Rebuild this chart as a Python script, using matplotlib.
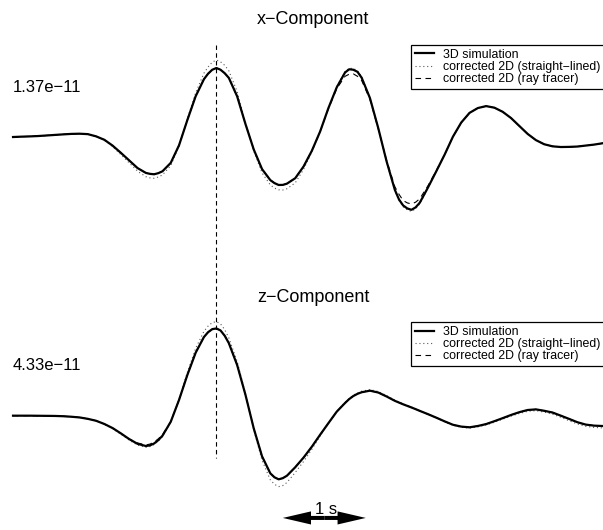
import numpy as np
import matplotlib
matplotlib.use("Agg")
import matplotlib.pyplot as plt
from matplotlib.lines import Line2D
import matplotlib.transforms as mtrans

plt.rcParams["font.family"] = ["Liberation Sans", "DejaVu Sans"]

# sample times (s), shared by all traces; denser around the extrema
t = [0.0, 0.1, 0.2, 0.3, 0.4, 0.5, 0.6, 0.7, 0.8, 0.9,
     1.0, 1.1, 1.2, 1.3, 1.4, 1.5, 1.6, 1.65, 1.7, 1.75, 1.8, 1.9,
     2.0, 2.1, 2.2, 2.3, 2.35, 2.4, 2.45, 2.5, 2.55, 2.6, 2.7, 2.8, 2.9,
     3.0, 3.1, 3.15, 3.2, 3.25, 3.3, 3.4, 3.5, 3.6, 3.7, 3.8, 3.9,
     4.0, 4.05, 4.1, 4.15, 4.2, 4.3, 4.4, 4.5, 4.6, 4.65, 4.7, 4.75, 4.8, 4.85, 4.9,
     5.0, 5.1, 5.2, 5.3, 5.4, 5.5, 5.6, 5.7, 5.8, 5.9,
     6.0, 6.1, 6.2, 6.3, 6.4, 6.5, 6.6, 6.7, 6.8, 6.9,
     7.0, 7.1]

# ── x-component (amplitude normalised to the 3D peak) ──
x_3d = [0.000, 0.005, 0.009, 0.014, 0.022, 0.030, 0.038, 0.045, 0.048, 0.042,
        0.010, -0.040, -0.125, -0.230, -0.340, -0.450, -0.520, -0.534, -0.540, -0.524, -0.497, -0.375,
        -0.120, 0.245, 0.590, 0.838, 0.918, 0.975, 1.000, 0.975, 0.925, 0.857, 0.590, 0.190, -0.180,
        -0.465, -0.625, -0.668, -0.695, -0.694, -0.676, -0.597, -0.428, -0.200, 0.080, 0.420, 0.720,
        0.935, 0.982, 0.975, 0.945, 0.860, 0.565, 0.130, -0.350, -0.765, -0.905, -0.992, -1.035, -1.055, -1.020, -0.953,
        -0.730, -0.495, -0.255, 0.005, 0.210, 0.350, 0.420, 0.448, 0.425, 0.365,
        0.275, 0.160, 0.045, -0.045, -0.105, -0.135, -0.145, -0.143, -0.138, -0.124,
        -0.110, -0.091]
x_straight = [0.000, 0.005, 0.009, 0.014, 0.022, 0.030, 0.038, 0.045, 0.048, 0.042,
              0.010, -0.045, -0.140, -0.255, -0.375, -0.495, -0.575, -0.592, -0.598, -0.580, -0.550, -0.415,
              -0.130, 0.265, 0.640, 0.925, 1.015, 1.085, 1.116, 1.090, 1.040, 0.960, 0.660, 0.210, -0.200,
              -0.520, -0.695, -0.740, -0.765, -0.768, -0.750, -0.665, -0.470, -0.215, 0.080, 0.425, 0.730,
              0.950, 0.995, 0.995, 0.960, 0.875, 0.570, 0.130, -0.355, -0.780, -0.920, -1.010, -1.055, -1.078, -1.042, -0.970,
              -0.740, -0.495, -0.255, 0.005, 0.210, 0.352, 0.422, 0.450, 0.427, 0.367,
              0.275, 0.160, 0.045, -0.045, -0.105, -0.135, -0.145, -0.143, -0.138, -0.124,
              -0.110, -0.091]
x_ray = [0.000, 0.005, 0.009, 0.014, 0.022, 0.030, 0.038, 0.045, 0.048, 0.042,
         0.010, -0.040, -0.125, -0.230, -0.340, -0.450, -0.520, -0.534, -0.540, -0.524, -0.497, -0.375,
         -0.120, 0.245, 0.590, 0.838, 0.918, 0.975, 1.000, 0.975, 0.925, 0.857, 0.590, 0.190, -0.180,
         -0.465, -0.625, -0.668, -0.695, -0.694, -0.676, -0.597, -0.428, -0.200, 0.080, 0.410, 0.700,
         0.880, 0.910, 0.915, 0.880, 0.820, 0.545, 0.120, -0.335, -0.720, -0.830, -0.920, -0.955, -0.970, -0.945, -0.895,
         -0.705, -0.485, -0.255, 0.005, 0.210, 0.350, 0.420, 0.448, 0.425, 0.365,
         0.275, 0.160, 0.045, -0.045, -0.105, -0.135, -0.145, -0.143, -0.138, -0.124,
         -0.110, -0.091]

# ── z-component ──
z_3d = [0.000, 0.000, 0.000, -0.001, -0.002, -0.003, -0.006, -0.012, -0.020, -0.036,
        -0.058, -0.095, -0.142, -0.203, -0.268, -0.322, -0.347, -0.340, -0.318, -0.280, -0.230, -0.070,
        0.180, 0.465, 0.720, 0.900, 0.955, 0.990, 0.998, 0.975, 0.915, 0.830, 0.580, 0.240, -0.145,
        -0.465, -0.660, -0.705, -0.728, -0.715, -0.687, -0.590, -0.480, -0.355, -0.218, -0.085, 0.046,
        0.145, 0.190, 0.225, 0.250, 0.268, 0.286, 0.265, 0.220, 0.170, 0.150, 0.130, 0.112, 0.094, 0.075, 0.055,
        0.017, -0.023, -0.065, -0.104, -0.125, -0.133, -0.118, -0.096, -0.063, -0.028,
        0.008, 0.040, 0.065, 0.072, 0.056, 0.036, 0.000, -0.037, -0.075, -0.102,
        -0.114, -0.118]
z_straight = [0.000, 0.000, 0.000, -0.001, -0.002, -0.003, -0.006, -0.012, -0.020, -0.036,
              -0.058, -0.098, -0.148, -0.212, -0.280, -0.337, -0.362, -0.353, -0.330, -0.292, -0.240, -0.072,
              0.190, 0.495, 0.770, 0.965, 1.025, 1.065, 1.076, 1.050, 0.985, 0.890, 0.620, 0.255, -0.160,
              -0.510, -0.735, -0.785, -0.812, -0.800, -0.765, -0.650, -0.525, -0.385, -0.232, -0.088, 0.050,
              0.152, 0.197, 0.235, 0.260, 0.280, 0.298, 0.277, 0.230, 0.178, 0.157, 0.136, 0.117, 0.098, 0.078, 0.057,
              0.016, -0.026, -0.070, -0.110, -0.133, -0.142, -0.128, -0.106, -0.075, -0.040,
              -0.005, 0.025, 0.050, 0.057, 0.040, 0.017, -0.018, -0.058, -0.095, -0.122,
              -0.134, -0.140]
z_ray = [0.000, 0.000, 0.000, -0.001, -0.002, -0.003, -0.006, -0.012, -0.020, -0.036,
         -0.058, -0.095, -0.142, -0.203, -0.268, -0.312, -0.335, -0.325, -0.302, -0.265, -0.218, -0.068,
         0.180, 0.465, 0.720, 0.900, 0.955, 0.990, 0.998, 0.975, 0.915, 0.830, 0.580, 0.240, -0.145,
         -0.465, -0.660, -0.705, -0.728, -0.715, -0.687, -0.590, -0.480, -0.355, -0.218, -0.085, 0.046,
         0.145, 0.190, 0.225, 0.250, 0.268, 0.286, 0.265, 0.220, 0.170, 0.150, 0.130, 0.112, 0.094, 0.075, 0.055,
         0.017, -0.023, -0.065, -0.104, -0.125, -0.133, -0.118, -0.096, -0.063, -0.028,
         0.008, 0.040, 0.065, 0.072, 0.056, 0.036, 0.000, -0.037, -0.075, -0.102,
         -0.114, -0.118]

amp_x = "1.37e\u221211"
amp_z = "4.33e\u221211"
labels = ["3D simulation", "corrected 2D (straight\u2212lined)", "corrected 2D (ray tracer)"]
t_pick = 2.44          # vertical reference line
t_bar, bar_len = 3.25, 1.0

T_LIM = (-0.157, 7.108)
sty_3d = dict(color="black", lw=1.6, ls="-", solid_joinstyle="round")
sty_st = dict(color="0.35", lw=0.8, ls=(0, (1, 2.5)))
sty_rt = dict(color="black", lw=0.8, ls=(0, (5, 4)))

fig = plt.figure(figsize=(6.03, 5.30), dpi=100)
ax_x = fig.add_axes([0, 0.5, 1, 0.5])
ax_z = fig.add_axes([0, 0.0, 1, 0.5])

panels = [
    (ax_x, x_3d, x_straight, x_ray, (-1.855, 1.986), "x\u2212Component", amp_x, 0.925, 0.668, 0.915),
    (ax_z, z_3d, z_straight, z_ray, (-1.308, 1.724), "z\u2212Component", amp_z, 0.879, 0.619, 0.392),
]
for ax, a3, ast, art, ylim, title, amp, ty, ay, ly in panels:
    ax.plot(t, ast, **sty_st)
    ax.plot(t, art, **sty_rt)
    ax.plot(t, a3, **sty_3d)
    ax.set_xlim(*T_LIM)
    ax.set_ylim(*ylim)
    ax.axis("off")
    ax.text(0.519, ty, title, transform=ax.transAxes, ha="center", va="center", fontsize=13)
    ax.text(0.0216, ay, amp, transform=ax.transAxes, ha="left", va="center", fontsize=12)
    handles = [Line2D([], [], **sty_3d), Line2D([], [], **sty_st), Line2D([], [], **sty_rt)]
    leg = ax.legend(handles, labels, loc="upper left", bbox_to_anchor=(411 / 603, ly),
                    bbox_transform=fig.transFigure, borderaxespad=0, frameon=True,
                    fancybox=False, edgecolor="black", framealpha=1, fontsize=8.9,
                    handlelength=1.6, handletextpad=0.65, labelspacing=0.02,
                    borderpad=0.3)
    leg.get_frame().set_linewidth(0.9)

# vertical dashed line spanning both panels
tr = mtrans.blended_transform_factory(ax_x.transData, fig.transFigure)
fig.add_artist(Line2D([t_pick, t_pick], [0.915, 0.136], transform=tr,
                      color="black", lw=0.8, ls=(0, (4, 3))))

# 1 s scale bar: two arrows pointing outward from the middle
mid = t_bar + bar_len / 2
for d in (-bar_len / 2, bar_len / 2):
    ax_z.arrow(mid, -1.17, d, 0, width=0.046, head_width=0.15, head_length=0.34,
               length_includes_head=True, color="black", lw=0)
ax_z.text(mid + 0.02, -1.125, "1 s", ha="center", va="baseline", fontsize=12)

fig.savefig("out.png", dpi=100)
